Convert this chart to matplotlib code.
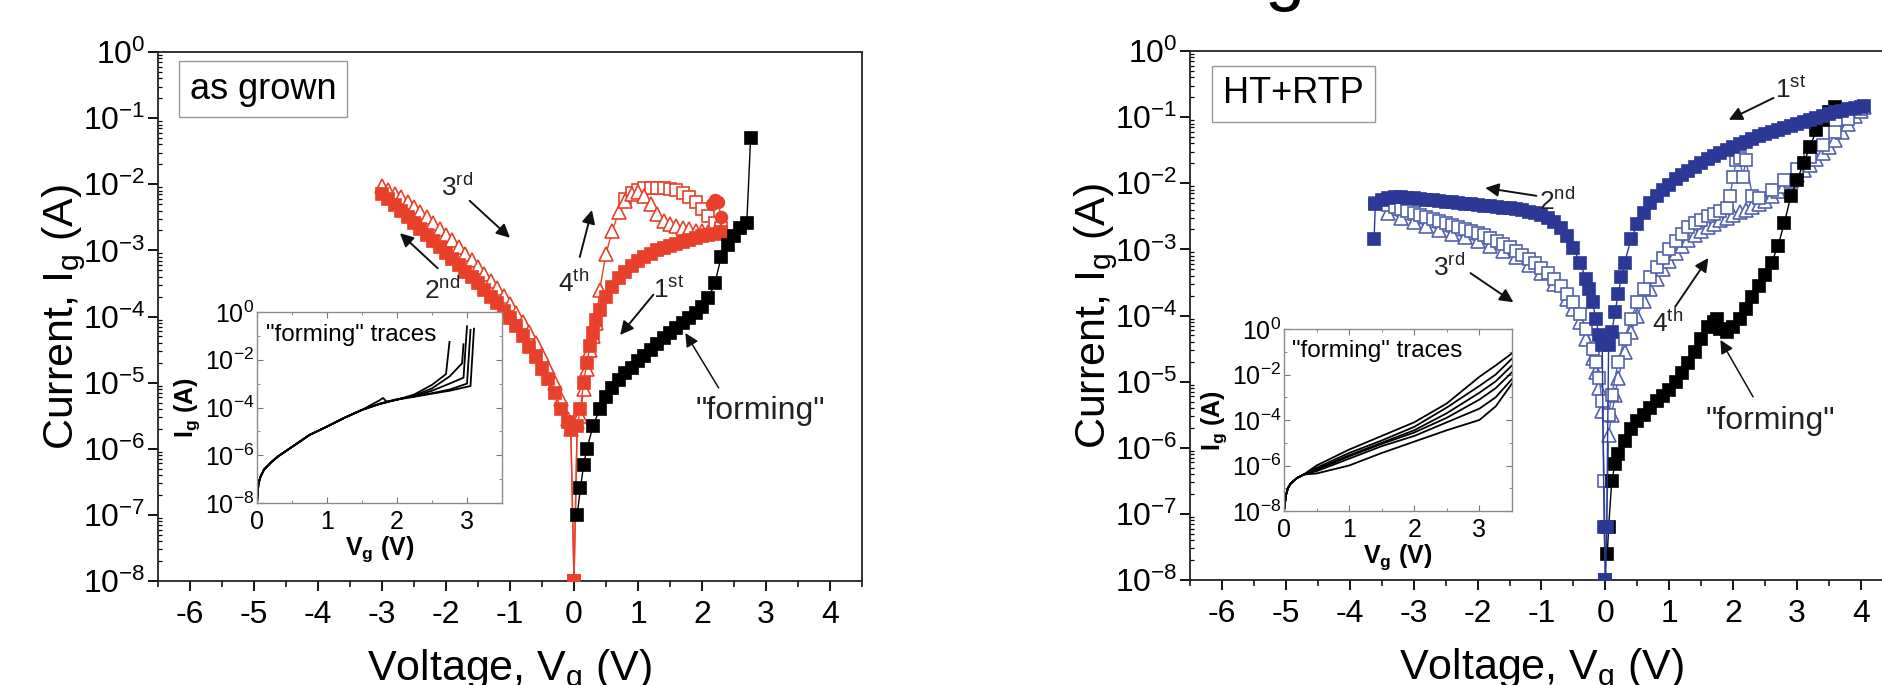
import matplotlib.pyplot as plt
import numpy as np
from matplotlib.ticker import LogLocator, NullFormatter, MultipleLocator, FixedLocator

plt.rcParams['font.family'] = ['Liberation Sans', 'DejaVu Sans']
plt.rcParams['mathtext.fontset'] = 'custom'
plt.rcParams['mathtext.rm'] = 'Liberation Sans'
plt.rcParams['mathtext.it'] = 'Liberation Sans:italic'
plt.rcParams['mathtext.bf'] = 'Liberation Sans:bold'
plt.rcParams['axes.unicode_minus'] = False

red = '#e8402a'
blue = '#2b3896'
blue_open = '#5462ad'

# ---- data (log10 of current in A) ----
# left panel: as grown
ag_form_v = [0.05, 0.1, 0.15, 0.2, 0.3, 0.4, 0.5, 0.6, 0.7, 0.8, 0.9, 1.0, 1.1, 1.2, 1.3,
             1.4, 1.5, 1.6, 1.7, 1.8, 1.9, 2.0, 2.1, 2.2, 2.3, 2.4, 2.5, 2.6, 2.7, 2.76]
ag_form_logI = [-7.0, -6.6, -6.25, -6.0, -5.65, -5.4, -5.22, -5.08, -4.96, -4.86, -4.78, -4.68,
                -4.6, -4.5, -4.42, -4.33, -4.25, -4.17, -4.1, -4.03, -3.95, -3.85, -3.72, -3.5,
                -3.1, -2.92, -2.78, -2.66, -2.58, -1.3]

ag_1st_v = [2.3, 2.2, 2.1, 2.0, 1.9, 1.8, 1.7, 1.6, 1.5, 1.4, 1.3, 1.2, 1.1, 1.0, 0.9, 0.8,
            0.7, 0.6, 0.5, 0.4, 0.35, 0.3, 0.25, 0.2, 0.15, 0.1, 0.05, 0.0]
ag_1st_logI = [-2.72, -2.75, -2.77, -2.79, -2.81, -2.84, -2.87, -2.9, -2.93, -2.96, -3.0, -3.05,
               -3.1, -3.16, -3.23, -3.32, -3.42, -3.55, -3.7, -3.9, -4.05, -4.25, -4.45, -4.7,
               -5.0, -5.4, -5.65, -8.0]

ag_2nd_v = [0.0, -0.05, -0.1, -0.2, -0.3, -0.4, -0.5, -0.6, -0.7, -0.8, -0.9, -1.0, -1.1, -1.2,
            -1.3, -1.4, -1.5, -1.6, -1.7, -1.8, -1.9, -2.0, -2.1, -2.2, -2.3, -2.4, -2.5, -2.6,
            -2.7, -2.8, -2.9, -3.0]
ag_2nd_logI = [-8.0, -5.7, -5.6, -5.4, -5.15, -4.95, -4.8, -4.62, -4.46, -4.3, -4.15, -4.02,
               -3.91, -3.8, -3.7, -3.6, -3.5, -3.41, -3.32, -3.22, -3.13, -3.04, -2.95, -2.86,
               -2.77, -2.68, -2.59, -2.5, -2.41, -2.32, -2.23, -2.15]

ag_3rd_v = [-3.0, -2.9, -2.8, -2.7, -2.6, -2.5, -2.4, -2.3, -2.2, -2.1, -2.0, -1.9, -1.8, -1.7,
            -1.6, -1.5, -1.4, -1.3, -1.2, -1.1, -1.0, -0.9, -0.8, -0.7, -0.6, -0.5, -0.4, -0.3,
            -0.2, -0.1, -0.05, 0.0]
ag_3rd_logI = [-2.03, -2.08, -2.14, -2.2, -2.27, -2.34, -2.42, -2.5, -2.58, -2.67, -2.76, -2.85,
               -2.95, -3.05, -3.15, -3.25, -3.35, -3.46, -3.57, -3.69, -3.81, -3.94, -4.08,
               -4.23, -4.4, -4.58, -4.78, -5.0, -5.25, -5.55, -5.7, -8.0]

ag_4th_v = [0.0, 0.05, 0.1, 0.15, 0.2, 0.25, 0.3, 0.35, 0.4, 0.5, 0.6, 0.7, 0.8, 0.9, 1.0, 1.1,
            1.2, 1.3, 1.4, 1.5, 1.6, 1.7, 1.8, 1.9, 2.0, 2.1, 2.2, 2.3]
ag_4th_logI = [-8.0, -5.6, -5.5, -5.1, -4.8, -4.5, -4.3, -4.1, -3.6, -3.05, -2.7, -2.42, -2.25,
               -2.15, -2.12, -2.18, -2.3, -2.45, -2.55, -2.6, -2.63, -2.66, -2.68, -2.7, -2.71,
               -2.72, -2.72, -2.7]

ag_loop_v = [0.8, 0.9, 1.0, 1.1, 1.2, 1.3, 1.4, 1.5, 1.6, 1.7, 1.8, 1.9, 2.0, 2.1, 2.2, 2.3]
ag_loop_logI = [-2.22, -2.13, -2.08, -2.06, -2.06, -2.06, -2.06, -2.07, -2.09, -2.13, -2.19,
                -2.27, -2.37, -2.48, -2.58, -2.66]

ag_dot_v = [2.15, 2.2, 2.25, 2.3]
ag_dot_logI = [-2.3, -2.24, -2.27, -2.5]

# right panel: HT+RTP
ht_form_v = [0.03, 0.05, 0.1, 0.15, 0.2, 0.3, 0.4, 0.5, 0.6, 0.7, 0.8, 0.9, 1.0, 1.1, 1.2, 1.3,
             1.4, 1.5, 1.6, 1.7, 1.75, 1.8, 1.9, 2.0, 2.1, 2.2, 2.3, 2.4, 2.5, 2.6, 2.7, 2.8,
             2.9, 3.0, 3.1, 3.2, 3.3, 3.4, 3.5, 3.6]
ht_form_logI = [-7.6, -7.2, -6.5, -6.25, -6.1, -5.9, -5.72, -5.6, -5.5, -5.4, -5.3, -5.22,
                -5.12, -5.0, -4.87, -4.72, -4.55, -4.35, -4.18, -4.1, -4.05, -4.2, -4.25, -4.18,
                -4.05, -3.9, -3.72, -3.55, -3.38, -3.2, -2.95, -2.6, -2.2, -1.95, -1.7, -1.45,
                -1.2, -1.05, -0.92, -0.85]

ht_1st_v = [4.05, 4.0, 3.9, 3.8, 3.7, 3.6, 3.5, 3.4, 3.3, 3.2, 3.1, 3.0, 2.9, 2.8, 2.7, 2.6,
            2.5, 2.4, 2.3, 2.2, 2.1, 2.0, 1.9, 1.8, 1.7, 1.6, 1.5, 1.4, 1.3, 1.2, 1.1, 1.0,
            0.9, 0.8, 0.7, 0.6, 0.5, 0.4, 0.3, 0.25, 0.2, 0.15, 0.1, 0.05, 0.02, 0.0]
ht_1st_logI = [-0.83, -0.84, -0.86, -0.88, -0.9, -0.93, -0.96, -0.98, -1.01, -1.04, -1.07,
               -1.1, -1.13, -1.16, -1.19, -1.22, -1.26, -1.29, -1.33, -1.37, -1.41, -1.45,
               -1.5, -1.54, -1.59, -1.64, -1.69, -1.75, -1.81, -1.87, -1.94, -2.02, -2.1, -2.2,
               -2.3, -2.45, -2.62, -2.85, -3.2, -3.42, -3.68, -3.95, -4.25, -4.45, -7.2, -8.0]

ht_2nd_v = [0.0, -0.02, -0.05, -0.1, -0.15, -0.2, -0.25, -0.3, -0.4, -0.5, -0.6, -0.7, -0.8,
            -0.9, -1.0, -1.1, -1.2, -1.3, -1.4, -1.5, -1.6, -1.7, -1.8, -1.9, -2.0, -2.1, -2.2,
            -2.3, -2.4, -2.5, -2.6, -2.7, -2.8, -2.9, -3.0, -3.1, -3.2, -3.3, -3.4, -3.5,
            -3.6, -3.62]
ht_2nd_logI = [-8.0, -7.2, -4.45, -4.3, -4.05, -3.8, -3.6, -3.45, -3.2, -2.98, -2.8, -2.67,
               -2.58, -2.52, -2.48, -2.45, -2.43, -2.41, -2.39, -2.38, -2.37, -2.36, -2.35,
               -2.34, -2.33, -2.32, -2.31, -2.3, -2.29, -2.28, -2.27, -2.26, -2.25, -2.24,
               -2.23, -2.22, -2.21, -2.21, -2.22, -2.25, -2.32, -2.85]

ht_3rd_v = [-3.6, -3.5, -3.4, -3.3, -3.2, -3.1, -3.0, -2.9, -2.8, -2.7, -2.6, -2.5, -2.4, -2.3,
            -2.2, -2.1, -2.0, -1.9, -1.8, -1.7, -1.6, -1.5, -1.4, -1.3, -1.2, -1.1, -1.0, -0.9,
            -0.8, -0.7, -0.6, -0.5, -0.4, -0.3, -0.2, -0.15, -0.1, -0.05, -0.02, 0.0]
ht_3rd_logI = [-2.3, -2.3, -2.33, -2.36, -2.39, -2.42, -2.45, -2.48, -2.51, -2.54, -2.57, -2.6,
               -2.63, -2.66, -2.69, -2.72, -2.75, -2.79, -2.83, -2.87, -2.92, -2.97, -3.02,
               -3.08, -3.14, -3.21, -3.28, -3.36, -3.45, -3.55, -3.67, -3.8, -3.97, -4.2, -4.5,
               -4.7, -4.95, -5.3, -6.5, -8.0]

ht_3b_v = [-3.4, -3.2, -3.0, -2.8, -2.6, -2.4, -2.2, -2.0, -1.8, -1.6, -1.4, -1.2, -1.0, -0.8,
           -0.6, -0.5, -0.4, -0.3, -0.2, -0.15, -0.1, -0.05]
ht_3b_logI = [-2.45, -2.52, -2.58, -2.64, -2.7, -2.76, -2.82, -2.88, -2.95, -3.03, -3.12, -3.23,
              -3.36, -3.52, -3.75, -3.9, -4.1, -4.35, -4.65, -4.85, -5.1, -5.45]

ht_4th_v = [0.0, 0.05, 0.1, 0.15, 0.2, 0.3, 0.4, 0.5, 0.6, 0.7, 0.8, 0.9, 1.0, 1.1, 1.2, 1.3,
            1.4, 1.5, 1.6, 1.7, 1.8, 1.9, 2.0, 2.1, 2.2, 2.3, 2.4, 2.5, 2.6, 2.7, 2.8, 2.9,
            3.0, 3.1, 3.2, 3.3, 3.4, 3.5, 3.6, 3.7, 3.8, 3.9, 4.0, 4.05]
ht_4th_logI = [-8.0, -5.8, -5.5, -5.2, -4.95, -4.55, -4.25, -4.0, -3.78, -3.6, -3.45, -3.3,
               -3.17, -3.05, -2.95, -2.86, -2.78, -2.72, -2.66, -2.61, -2.56, -2.52, -2.48,
               -2.44, -2.4, -2.36, -2.32, -2.27, -2.2, -2.12, -2.04, -1.96, -1.88, -1.8, -1.72,
               -1.64, -1.55, -1.45, -1.35, -1.22, -1.1, -0.98, -0.9, -0.85]

ht_4b_v = [0.05, 0.1, 0.2, 0.3, 0.4, 0.5, 0.6, 0.7, 0.8, 0.9, 1.0, 1.1, 1.2, 1.3, 1.4, 1.5, 1.6,
           1.7, 1.8, 1.9, 1.95, 2.0, 2.05, 2.1, 2.15, 2.2, 2.3, 2.4, 2.6, 2.8, 3.0, 3.2, 3.4,
           3.6, 3.8, 4.0]
ht_4b_logI = [-5.5, -5.2, -4.7, -4.35, -4.05, -3.8, -3.6, -3.42, -3.27, -3.13, -3.0, -2.88,
              -2.77, -2.66, -2.6, -2.55, -2.5, -2.46, -2.42, -2.38, -2.2, -1.9, -1.65, -1.62,
              -1.9, -1.65, -2.2, -2.22, -2.1, -1.95, -1.78, -1.6, -1.42, -1.22, -1.03, -0.88]

# insets: "forming" traces
ins1_v0 = [0.0, 0.02, 0.05, 0.1, 0.2, 0.3, 0.5, 0.75, 1.0, 1.25, 1.5]
ins1_logI0 = [-8.0, -7.2, -6.9, -6.6, -6.3, -6.05, -5.65, -5.15, -4.8, -4.43, -4.1]
ins1_tails = [
    ([1.75, 1.8, 1.85, 2.0, 2.25, 2.5, 2.7, 2.75], [-3.7, -3.6, -3.75, -3.68, -3.45, -3.05, -2.6, -1.25]),
    ([1.75, 2.0, 2.25, 2.5, 2.75, 2.93, 2.95], [-3.85, -3.67, -3.5, -3.2, -2.7, -2.15, -1.35]),
    ([1.75, 2.0, 2.25, 2.5, 2.75, 2.95, 3.0], [-3.85, -3.66, -3.52, -3.3, -3.0, -2.75, -0.6]),
    ([1.75, 2.0, 2.25, 2.5, 2.75, 3.0, 3.05], [-3.84, -3.65, -3.53, -3.4, -3.25, -3.0, -0.75]),
    ([1.75, 2.0, 2.25, 2.5, 2.75, 3.05, 3.1], [-3.86, -3.67, -3.55, -3.42, -3.3, -3.1, -0.7]),
]

ins2_v0 = [0.0, 0.03, 0.06, 0.1, 0.2, 0.3]
ins2_logI0 = [-8.0, -7.3, -7.0, -6.8, -6.55, -6.4]
ins2_v = [0.5, 1.0, 1.5, 2.0, 2.5, 3.0, 3.25, 3.5]
ins2_tails = [
    [-6.0, -5.3, -4.7, -4.1, -3.27, -2.1, -1.6, -1.07],
    [-6.1, -5.45, -4.9, -4.3, -3.45, -2.5, -2.0, -1.3],
    [-6.15, -5.55, -5.0, -4.45, -3.7, -2.8, -2.3, -1.6],
    [-6.2, -5.6, -5.05, -4.55, -3.9, -3.1, -2.6, -1.9],
    [-6.25, -5.7, -5.15, -4.7, -4.1, -3.5, -3.0, -2.2],
    [-6.35, -6.0, -5.45, -4.95, -4.45, -4.0, -3.4, -2.4],
]

W, H = 1882, 685
fig = plt.figure(figsize=(W / 100, H / 100), dpi=100)


def main_axes(left_px, right_px, top_px, bottom_px):
    ax = fig.add_axes([left_px / W, 1 - bottom_px / H, (right_px - left_px) / W,
                       (bottom_px - top_px) / H])
    ax.set_yscale('log')
    ax.set_xlim(-6.5, 4.5)
    ax.set_ylim(1e-8, 1)
    ax.set_xticks(range(-6, 5))
    ax.xaxis.set_minor_locator(MultipleLocator(0.5))
    ax.yaxis.set_major_locator(LogLocator(base=10, numticks=20))
    ax.yaxis.set_minor_locator(LogLocator(base=10, subs=np.arange(2, 10), numticks=20))
    ax.yaxis.set_minor_formatter(NullFormatter())
    ax.tick_params(which='major', direction='out', length=7, width=1.3, labelsize=23)
    ax.tick_params(axis='x', which='major', pad=7)
    ax.tick_params(axis='y', which='major', pad=2)
    ax.tick_params(axis='x', which='minor', direction='out', length=4, width=1.1)
    ax.tick_params(axis='y', which='minor', direction='in', length=3, width=0.9)
    for s in ax.spines.values():
        s.set_linewidth(1.3)
        s.set_color('#222222')
    ax.set_ylabel('Current, I$_\\mathrm{g}$ (A)', fontsize=31)
    ax.yaxis.set_label_coords(-0.1, 0.5)
    ax.set_xlabel('Voltage, V$_\\mathrm{g}$ (V)', fontsize=31)
    ax.xaxis.set_label_coords(0.5, -0.125)
    return ax


def inset_axes(left_px, right_px, top_px, bottom_px):
    ins = fig.add_axes([left_px / W, 1 - bottom_px / H, (right_px - left_px) / W,
                        (bottom_px - top_px) / H])
    ins.set_yscale('log')
    ins.set_xlim(0, 3.5)
    ins.set_ylim(1e-8, 1)
    ins.set_xticks([0, 1, 2, 3])
    ins.xaxis.set_minor_locator(MultipleLocator(0.5))
    ins.yaxis.set_major_locator(FixedLocator([1e-8, 1e-6, 1e-4, 1e-2, 1]))
    ins.yaxis.set_minor_locator(FixedLocator([1e-7, 1e-5, 1e-3, 1e-1]))
    ins.yaxis.set_minor_formatter(NullFormatter())
    ins.tick_params(which='both', direction='in', top=True, right=True, labelsize=18,
                    color='#777777', pad=2)
    ins.tick_params(axis='x', which='major', pad=5)
    ins.tick_params(which='major', length=4)
    ins.tick_params(which='minor', length=2.5)
    for s in ins.spines.values():
        s.set_linewidth(1.0)
        s.set_color('#8a8a8a')
    ins.set_ylabel(r'$\mathbf{I_g}$ (A)', fontsize=18, fontweight='bold', labelpad=2)
    ins.set_xlabel(r'$\mathbf{V_g}$ (V)', fontsize=18, fontweight='bold', labelpad=0)
    ins.text(0.035, 0.88, '"forming" traces', transform=ins.transAxes, fontsize=17.5,
             va='center', ha='left')
    ins.set_zorder(5)
    return ins


def sweep(ax, v, logI, color, marker, filled, ms=8, z=3, edge=None):
    I = 10.0 ** np.array(logI)
    ec = edge if edge else color
    ax.plot(v, I, color=ec, lw=1, marker=marker, ms=ms, mfc=color if filled else 'white',
            mec=ec, mew=1.2, zorder=z)


def arrow(ax, tail, head, lw=1.4):
    ax.annotate('', xy=head, xytext=tail,
                arrowprops=dict(arrowstyle='-|>', color='#111111', lw=lw,
                                mutation_scale=20, shrinkA=0, shrinkB=0))


def tag(ax, x, y, s, size=19):
    ax.text(x, y, s, fontsize=size, ha='center', va='center', color='#222222', zorder=6)


box = dict(boxstyle='square,pad=0.3', fc='white', ec='#999999', lw=1)

# ---------------- left panel ----------------
ax1 = main_axes(158, 862, 52, 581)
sweep(ax1, ag_3rd_v, ag_3rd_logI, red, '^', False, ms=9.5, z=3)
sweep(ax1, ag_loop_v, ag_loop_logI, red, 's', False, ms=8.5, z=3)
sweep(ax1, ag_4th_v, ag_4th_logI, red, '^', False, ms=9.5, z=4)
sweep(ax1, ag_2nd_v, ag_2nd_logI, red, 's', True, ms=9, z=4)
sweep(ax1, ag_1st_v, ag_1st_logI, red, 's', True, ms=9, z=4)
sweep(ax1, ag_dot_v, ag_dot_logI, red, 'o', True, ms=8.5, z=4)
sweep(ax1, ag_form_v, ag_form_logI, 'black', 's', True, ms=9, z=5)

ax1.text(0.045, 0.93, 'as grown', transform=ax1.transAxes, fontsize=26, va='center',
         ha='left', bbox=box)

tag(ax1, -1.82, 10 ** -2.05, '3$^{\\mathrm{rd}}$')
arrow(ax1, (-1.63, 10 ** -2.25), (-1.0, 10 ** -2.81))
tag(ax1, -2.06, 10 ** -3.6, '2$^{\\mathrm{nd}}$')
arrow(ax1, (-2.13, 10 ** -3.27), (-2.72, 10 ** -2.74))
tag(ax1, -0.01, 10 ** -3.5, '4$^{\\mathrm{th}}$')
arrow(ax1, (0.09, 10 ** -3.1), (0.28, 10 ** -2.39))
tag(ax1, 1.48, 10 ** -3.6, '1$^{\\mathrm{st}}$')
arrow(ax1, (1.24, 10 ** -3.67), (0.72, 10 ** -4.28))
tag(ax1, 2.91, 10 ** -5.43, '"forming"', size=23)
arrow(ax1, (2.26, 10 ** -5.08), (1.74, 10 ** -4.25), lw=1.1)

ins1 = inset_axes(257, 502, 312, 503)
for tv, tl in ins1_tails:
    ins1.plot(ins1_v0 + tv, 10.0 ** np.array(ins1_logI0 + tl), color='black', lw=1.3)

# ---------------- right panel ----------------
ax2 = main_axes(1190, 1893, 51, 580)
sweep(ax2, ht_3b_v, ht_3b_logI, blue_open, '^', False, ms=9.5, z=3)
sweep(ax2, ht_3rd_v, ht_3rd_logI, blue_open, 's', False, ms=8.5, z=3)
sweep(ax2, ht_4th_v, ht_4th_logI, blue_open, '^', False, ms=9.5, z=3)
sweep(ax2, ht_4b_v, ht_4b_logI, blue_open, 's', False, ms=8.5, z=3)
sweep(ax2, ht_form_v, ht_form_logI, 'black', 's', True, ms=9, z=4)
sweep(ax2, ht_2nd_v, ht_2nd_logI, blue, 's', True, ms=9, z=5)
sweep(ax2, ht_1st_v, ht_1st_logI, blue, 's', True, ms=9, z=5)

ax2.text(0.047, 0.919, 'HT+RTP', transform=ax2.transAxes, fontsize=26, va='center',
         ha='left', bbox=box)

tag(ax2, 2.9, 10 ** -0.59, '1$^{\\mathrm{st}}$')
arrow(ax2, (2.63, 10 ** -0.71), (1.93, 10 ** -1.04))
tag(ax2, -0.75, 10 ** -2.28, '2$^{\\mathrm{nd}}$')
arrow(ax2, (-1.08, 10 ** -2.19), (-1.88, 10 ** -2.07))
tag(ax2, -2.45, 10 ** -3.28, '3$^{\\mathrm{rd}}$')
arrow(ax2, (-2.11, 10 ** -3.36), (-1.44, 10 ** -3.8))
tag(ax2, 0.97, 10 ** -4.12, '4$^{\\mathrm{th}}$')
arrow(ax2, (1.09, 10 ** -3.87), (1.61, 10 ** -3.13))
tag(ax2, 2.58, 10 ** -5.6, '"forming"', size=23)
arrow(ax2, (2.31, 10 ** -5.23), (1.8, 10 ** -4.37), lw=1.1)

ins2 = inset_axes(1284, 1512, 329, 511)
for tl in ins2_tails:
    ins2.plot(ins2_v0 + ins2_v, 10.0 ** np.array(ins2_logI0 + tl), color='black', lw=1.3)

# cut-off heading above the panels
fig.text(1285 / W, 1.004, 'g', fontsize=52, ha='center', va='baseline')

fig.savefig('out.png', dpi=100)
